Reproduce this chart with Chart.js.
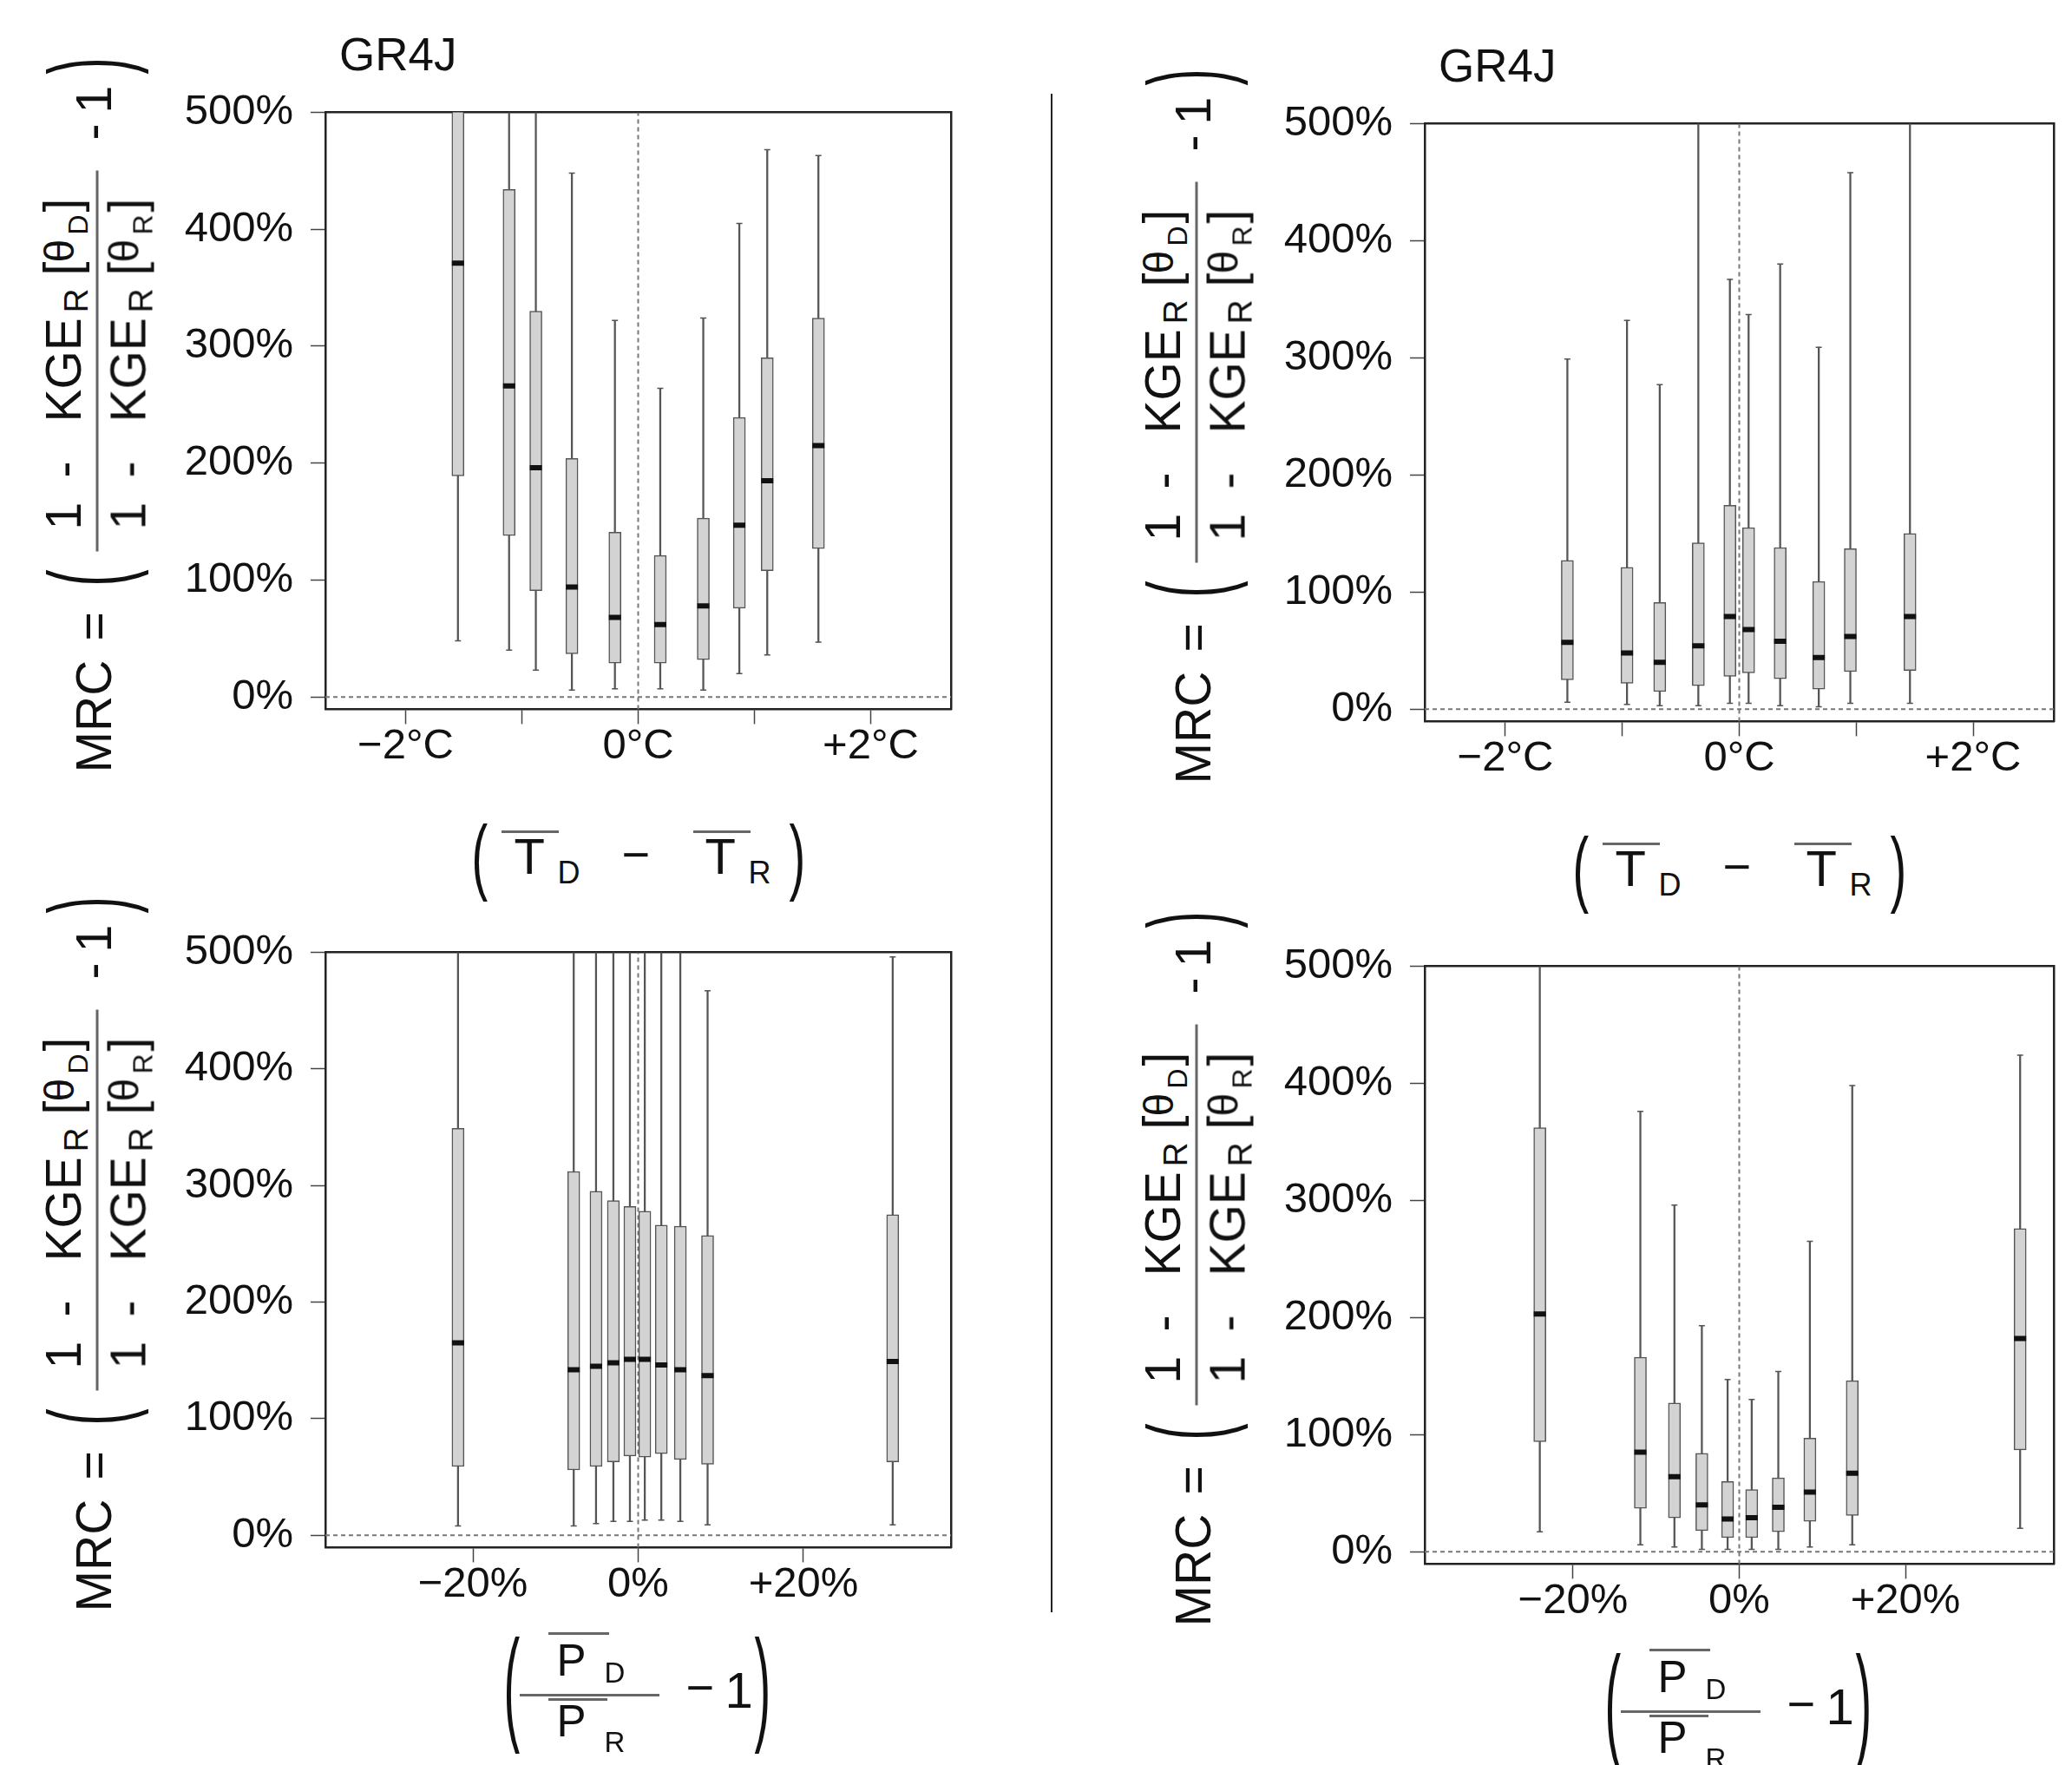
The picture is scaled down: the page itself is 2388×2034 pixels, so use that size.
<!DOCTYPE html>
<html>
<head>
<meta charset="utf-8">
<script src="https://cdn.jsdelivr.net/npm/chart.js@4.4.1/dist/chart.umd.min.js"></script>
<style>
  body { margin: 0; background: #fff; }
  #page { position: relative; width: 2388px; height: 2034px; overflow: hidden; background: #fff;
          font-family: "Liberation Sans", Arial, sans-serif; color: #111; }
  .panel { position: absolute; }
  .txt { position: absolute; white-space: nowrap; line-height: 1; }
  .blk { position: absolute; }
  .rule { position: absolute; background: #666; }
  #sep { position: absolute; left: 1211px; top: 108px; width: 2px; height: 1750px; background: #222; }
</style>
</head>
<body>
<div id="page"><div id="sep"></div></div>
<script>
const page = document.querySelector('#page')

// y axis (shared by all four panels)
const mrcRange = [-10.5, 500]
const mrcTicks = [0, 100, 200, 300, 400, 500]
const mrcTickLabels = ['0%', '100%', '200%', '300%', '400%', '500%']

// x axes
const tempRange = [-2.69, 2.69]
const tempTicks = [-2, -1, 0, 1, 2]
const tempTickLabels = ['−2°C', '', '0°C', '', '+2°C']
const precRange = [-37.85, 37.85]
const precTicks = [-20, 0, 20]
const precTickLabels = ['−20%', '0%', '+20%']

// dotted reference lines
const refX = 0
const refY = 0

const modelName = 'GR4J'

// top left: temperature shift, boxes (whisker ends above 500% are clipped)
const tempPosA = [-1.55, -1.11, -0.88, -0.57, -0.20, 0.19, 0.56, 0.87, 1.11, 1.55]
const tempLowA = [48, 40, 23, 6, 7, 7, 6, 20, 36, 47]
const tempQ1A = [189, 138, 91, 37, 29, 29, 32, 76, 108, 127]
const tempMedA = [371, 266, 196, 94, 68, 62, 78, 147, 185, 215]
const tempQ3A = [540, 434, 330, 204, 141, 121, 153, 239, 290, 324]
const tempHighA = [700, 620, 580, 448, 322, 264, 324, 405, 468, 463]

// top right
const tempPosB = [-1.47, -0.96, -0.68, -0.35, -0.08, 0.08, 0.35, 0.68, 0.95, 1.46]
const tempLowB = [6, 4, 3, 3, 5, 5, 3, 2, 5, 5]
const tempQ1B = [25, 22, 15, 20, 28, 31, 26, 17, 32, 33]
const tempMedB = [57, 48, 40, 54, 79, 68, 58, 44, 62, 79]
const tempQ3B = [127, 121, 91, 142, 174, 155, 138, 109, 137, 150]
const tempHighB = [299, 332, 277, 600, 367, 337, 380, 309, 458, 600]

// bottom left: precipitation ratio
const precPosA = [-21.8, -7.8, -5.1, -3.0, -1.0, 0.8, 2.8, 5.1, 8.4, 30.8]
const precLowA = [8, 8, 10, 12, 12, 13, 13, 12, 9, 9]
const precQ1A = [59, 56, 59, 63, 68, 67, 70, 65, 61, 63]
const precMedA = [165, 142, 145, 148, 151, 151, 146, 142, 137, 149]
const precQ3A = [349, 312, 295, 287, 282, 278, 266, 265, 257, 275]
const precHighA = [620, 650, 640, 630, 640, 650, 640, 630, 467, 496]

// bottom right
const precPosB = [-24.0, -11.9, -7.8, -4.5, -1.4, 1.5, 4.7, 8.5, 13.6, 33.8]
const precLowB = [17, 6, 4, 2, 2, 2, 2, 4, 6, 20]
const precQ1B = [94, 37, 29, 18, 12, 12, 17, 26, 31, 87]
const precMedB = [203, 85, 64, 40, 28, 29, 38, 51, 67, 182]
const precQ3B = [362, 166, 127, 84, 60, 53, 63, 97, 146, 276]
const precHighB = [620, 376, 296, 193, 147, 130, 154, 265, 398, 424]

const panels = [
  { left: 375, right: 1096, top: 129, bottom: 817, kind: 'T', title: true,
    pos: tempPosA, low: tempLowA, q1: tempQ1A, med: tempMedA, q3: tempQ3A, high: tempHighA },
  { left: 1642, right: 2367, top: 142, bottom: 831, kind: 'T', title: true,
    pos: tempPosB, low: tempLowB, q1: tempQ1B, med: tempMedB, q3: tempQ3B, high: tempHighB },
  { left: 375, right: 1096, top: 1097, bottom: 1783, kind: 'P',
    pos: precPosA, low: precLowA, q1: precQ1A, med: precMedA, q3: precQ3A, high: precHighA },
  { left: 1642, right: 2367, top: 1113, bottom: 1802, kind: 'P',
    pos: precPosB, low: precLowB, q1: precQ1B, med: precMedB, q3: precQ3B, high: precHighB }
]

const FONT = '"Liberation Sans", Arial, sans-serif'
const BASE = 0.8465 // baseline from top of a line-height:1 box, Liberation Sans

// text helpers, all positions are baselines
const addText = (parent, html, x, baseline, size) => {
  const el = document.createElement('span')
  el.className = 'txt'
  el.innerHTML = html
  el.style.left = x + 'px'
  el.style.top = (baseline - BASE * size) + 'px'
  el.style.fontSize = size + 'px'
  parent.appendChild(el)
  return el
}

const addParen = (parent, ch, x, centerY, size, height) => {
  const el = addText(parent, ch, x, 0, size)
  const mid = 0.5875 * size
  el.style.top = (centerY - mid) + 'px'
  el.style.transformOrigin = `50% ${mid}px`
  el.style.transform = `scaleY(${height / (0.94 * size)})`
  return el
}

const addRule = (parent, x, y, w, h) => {
  const el = document.createElement('div')
  el.className = 'rule'
  Object.assign(el.style, { left: x + 'px', top: y + 'px', width: w + 'px', height: h + 'px' })
  parent.appendChild(el)
}

const makeBlock = (x, y, w, h) => {
  const el = document.createElement('div')
  el.className = 'blk'
  Object.assign(el.style, { left: x + 'px', top: y + 'px', width: w + 'px', height: h + 'px' })
  page.appendChild(el)
  return el
}

// MRC = ( (1 - KGE_R[θ_D]) / (1 - KGE_R[θ_R]) - 1 ), rotated
const yTitle = (p) => {
  const cx = p.left - 265
  const cy = (p.top + p.bottom) / 2 + 4.5
  const b = makeBlock(cx - 412.5, cy - 63, 825, 126)
  b.style.transform = 'rotate(-90deg)'
  addText(b, 'MRC', 0, 80, 57)
  addText(b, '=', 152, 80, 57)
  addParen(b, '(', 215, 65.5, 57, 119)
  const rows = [['D', 0], ['R', 75]]
  rows.forEach(([sub, dy]) => {
    addText(b, '1', 280, 45 + dy, 57)
    addText(b, '-', 340, 45 + dy, 57)
    addText(b, 'KGE', 404, 45 + dy, 57)
    addText(b, 'R', 530, 53 + dy, 39)
    addText(b, '[', 573, 43 + dy, 57)
    addText(b, 'θ', 588, 38 + dy, 48)
    addText(b, sub, 620, 53 + dy, 32)
    addText(b, ']', 646, 43 + dy, 57)
  })
  addRule(b, 255, 63, 439, 3)
  addText(b, '-', 729, 78, 57)
  addText(b, '1', 760, 80, 57)
  addParen(b, ')', 805, 65.5, 57, 119)
}

// ( T_D - T_R ) with bars
const xTitleT = (p) => {
  const b = makeBlock((p.left + p.right) / 2, p.bottom, 0, 0)
  addParen(b, '(', -192, 178, 56, 90)
  addText(b, 'T', -143, 190, 58)
  addRule(b, -157.5, 140, 66, 3)
  addText(b, 'D', -93, 201, 36)
  addText(b, '−', -19, 187, 56)
  addText(b, 'T', 77, 190, 58)
  addRule(b, 63.5, 140, 66, 3)
  addText(b, 'R', 127, 201, 36)
  addParen(b, ')', 174, 178, 56, 90)
}

// ( P_D / P_R - 1 ) with bars
const xTitleP = (p) => {
  const b = makeBlock((p.left + p.right) / 2, p.bottom, 0, 0)
  addParen(b, '(', -155, 172, 56, 136)
  addText(b, 'P', -94, 148, 51)
  addText(b, 'D', -39, 156, 33)
  addRule(b, -103.5, 98, 70, 3)
  addRule(b, -136.5, 168.5, 161, 3)
  addRule(b, -103.5, 174, 68, 3)
  addText(b, 'P', -94, 218, 51)
  addText(b, 'R', -39, 236, 33)
  addText(b, '−', 55, 181, 56)
  addText(b, '1', 100, 185, 58)
  addParen(b, ')', 134, 172, 56, 136)
}

const YW = 200, PT = 30, XH = 90, PR = 20

const drawPanel = (p) => {
  const isT = p.kind === 'T'
  const xRange = isT ? tempRange : precRange
  const xTicks = isT ? tempTicks : precTicks
  const xLabels = isT ? tempTickLabels : precTickLabels

  const w = p.right - p.left + YW + PR
  const h = p.bottom - p.top + PT + XH
  const holder = makeBlock(p.left - YW, p.top - PT, w, h)
  holder.className = 'panel'
  const canvas = document.createElement('canvas')
  canvas.width = w
  canvas.height = h
  holder.appendChild(canvas)

  const tickFont = { family: FONT, size: 49 }
  const edge = { display: true, color: '#222', width: 2.5 }
  const dotted = { borderColor: '#777', borderWidth: 2, borderDash: [5, 4], pointRadius: 0 }

  const chart = new Chart(canvas, {
    type: 'bar',
    data: {
      datasets: [
        Object.assign({ type: 'line', order: 6,
          data: [{ x: xRange[0], y: refY }, { x: xRange[1], y: refY }] }, dotted),
        Object.assign({ type: 'line', order: 6,
          data: [{ x: refX, y: mrcRange[0] }, { x: refX, y: mrcRange[1] }] }, dotted),
        {
          // whiskers
          type: 'bar', order: 5, grouped: false,
          data: p.pos.map((x, i) => ({ x, y: [p.low[i], p.high[i]] })),
          backgroundColor: '#555', barThickness: 1.6
        },
        {
          // whisker caps
          type: 'scatter', order: 4,
          data: p.pos.map((x, i) => ({ x, y: p.low[i] })).concat(p.pos.map((x, i) => ({ x, y: p.high[i] }))),
          pointStyle: 'line', pointRadius: 3.5, pointBorderWidth: 1.5, pointBorderColor: '#555'
        },
        {
          // boxes
          type: 'bar', order: 3, grouped: false,
          data: p.pos.map((x, i) => ({ x, y: [p.q1[i], p.q3[i]] })),
          backgroundColor: '#d3d3d3', borderColor: '#555', borderWidth: 1.5,
          borderSkipped: false, barThickness: 14
        },
        {
          // medians
          type: 'scatter', order: 1,
          data: p.pos.map((x, i) => ({ x, y: p.med[i] })),
          pointStyle: 'line', pointRadius: 7, pointBorderWidth: 6, pointBorderColor: '#111'
        }
      ]
    },
    options: {
      responsive: false,
      maintainAspectRatio: false,
      animation: false,
      devicePixelRatio: 1,
      events: [],
      layout: { padding: { top: PT, right: PR, left: 0, bottom: 0 } },
      plugins: { legend: { display: false }, tooltip: { enabled: false }, title: { display: false } },
      scales: {
        x: {
          type: 'linear', position: 'bottom', offset: false,
          min: xRange[0], max: xRange[1],
          afterBuildTicks: s => { s.ticks = xTicks.map(value => ({ value })) },
          afterFit: s => { s.height = XH },
          ticks: { autoSkip: false, maxRotation: 0, padding: -3, color: '#111', font: tickFont,
                   callback: (v, i) => xLabels[i] },
          grid: { offset: false, drawOnChartArea: false, drawTicks: true, tickLength: 17,
                  tickColor: '#444', tickWidth: 1.5 },
          border: edge
        },
        y: {
          type: 'linear', position: 'left',
          min: mrcRange[0], max: mrcRange[1],
          afterBuildTicks: s => { s.ticks = mrcTicks.map(value => ({ value })) },
          afterFit: s => { s.width = YW },
          ticks: { autoSkip: false, padding: 20, color: '#111', font: tickFont,
                   callback: (v, i) => mrcTickLabels[i] },
          grid: { drawOnChartArea: false, drawTicks: true, tickLength: 17, tickColor: '#444', tickWidth: 1.5 },
          border: edge
        },
        // top and right sides of the frame
        x2: {
          type: 'linear', position: 'top', display: true,
          ticks: { display: false }, grid: { display: false, drawTicks: false },
          afterFit: s => { s.height = 0 },
          border: edge
        },
        y2: {
          type: 'linear', position: 'right', display: true,
          ticks: { display: false }, grid: { display: false, drawTicks: false },
          afterFit: s => { s.width = 0 },
          border: edge
        }
      }
    }
  })

  // room added for the top tick label pushes the plot down: grow the canvas and move it back
  const extra = chart.chartArea.top - PT
  if (extra !== 0) {
    chart.resize(w, h + extra)
    holder.style.height = (h + extra) + 'px'
  }
  holder.style.top = (p.top - chart.chartArea.top) + 'px'
  holder.style.left = (p.left - chart.chartArea.left) + 'px'

  yTitle(p)
  if (isT) xTitleT(p)
  else xTitleP(p)
  if (p.title) addText(page, modelName, p.left + 16, p.top - 48, 53)
}

panels.forEach(drawPanel)
</script>
</body>
</html>
